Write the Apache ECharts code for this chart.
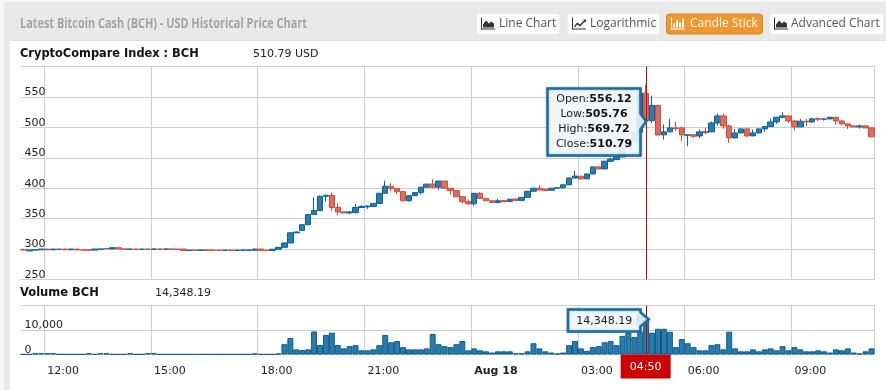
<!DOCTYPE html>
<html><head><meta charset="utf-8">
<style>html,body{margin:0;padding:0;background:#f7f7f7}#c{width:886px;height:390px}</style>
<script src="https://cdn.jsdelivr.net/npm/echarts@6/dist/echarts.min.js"></script>
</head><body><div id="c"></div>
<script>
const startHour = 11, startMinute = 20;
const tickIndex = [4,22,40,58,76,94,112,130];
const tickLabels = ['12:00','15:00','18:00','21:00','Aug 18','03:00','06:00','09:00'];
const priceTicks = {min:250,max:600,interval:50};
const volumeTicks = {min:0,max:20000,interval:10000};
const crosshairIndex = 105;
const crosshairLabel = '04:50';

const candleOpen = [
299.5,297,298.5,298.8,300,298.8,299.5,300,298.8,300,298.7,298.5,298.3,299.7,301,300.2,302.2,300.2,299.6,300,
299.6,300,299.7,300.1,299.8,300.1,299.9,300,297.6,298.4,298,298.4,298.3,298.2,297.9,298.2,297.9,298,298,298,
300,298,297.8,299.8,302.8,310,326.7,330.6,340,356.7,363.3,386.7,388.3,368.3,361.1,359.4,360,368.3,369.4,370,
375,391.7,403.3,399.4,394.4,379.4,387.8,392.8,401.7,406.7,401.7,411.7,400,396.1,386.1,377.8,374.4,391.7,383.3,379.4,
376.7,380,378.3,382.2,380,385,395,400,398.3,396.7,400,400.6,405.6,416.7,419.7,415.3,423.5,435,431.7,444.3,
447,451.4,466,477,492,556.12,510.8,536,487.7,492.6,499.1,499.1,487.1,487.7,486,493.1,492.6,507.3,518.8,502.4,
482.7,490.9,497.5,486,490.9,497.5,501.3,509,516.6,518.8,510.6,500.8,510,509,514.4,513.4,513.9,516.6,510.6,505.7,
502.4,500.8,502.4,499.1];
const candleClose = [
298.5,298.5,299,300,298.8,300,299.9,298.8,300,298.5,298.3,298.1,300,300.1,300.5,302.2,300.2,299.8,300,299.6,
299.9,299.7,300.1,299.8,300.1,299.7,299.6,297.5,298.2,298,298.4,298,297.9,297.8,298.2,297.9,298.2,298.4,298.4,300,
297.8,297.6,299.8,302.8,310,326.7,328,340,356.7,363.3,386.7,388.3,368.3,361.1,359.4,361.1,368.3,370,370.6,375,
391.7,403.3,399.4,394.4,379.4,387.8,392.8,401.7,406.7,401.7,411.7,400,396.1,386.1,377.8,374.4,391.7,383.3,379.4,376.7,
379.4,377.8,381.7,380,385,395,400,397.2,396.1,400,400.6,405.6,416.7,420,415.3,423.5,435,431.7,444.3,448,
451.4,466,477,492,556.12,510.79,536,487.4,492.6,499.1,498,487.7,487.7,485.5,492.6,491.5,507.3,518.8,502.4,482.7,
490.9,497.5,486,490.9,497.5,501.3,509,516.6,518.8,510.6,500.8,510,509,513.9,513.3,513.9,516.6,510.6,505.7,502.4,
500.8,502.4,499.1,484.4];
const candleLow = [
298,296.5,298,298.4,298.4,298.4,299.2,298.4,298.4,298.1,298,297.5,298,299.4,300.2,299.9,299.9,299.5,299.3,299.3,
299.3,299.4,299.4,299.5,299.5,299.4,299.3,297.2,297.3,297.7,297.7,297.7,297.6,297.5,297.6,297.6,297.6,297.7,297.7,297.7,
297.5,297.3,297.5,299.5,302.4,309.5,326.3,330,339.5,356,363,378,362.8,356.1,359,357.2,358.3,367.8,366.1,369.5,
374.5,391,395,390,378,378,387,390,401,399.5,397.2,399.4,389.4,385.5,375,372.8,371.1,383,379,376,
375,377.2,377,379.4,379.5,384.5,394.5,396.7,395.6,396.1,399.6,400,405,416,414.5,415,423,431,431,443.5,
446.5,451,465.5,476.5,491,505.76,507,487,480,492,493.7,477.3,469,482.7,482.2,488.7,492,503,497.5,474.5,
482.2,490,483.8,485.5,490.4,492.6,500.8,505.7,515.5,507.3,495.3,500.3,501.9,507.3,510,511.2,513.4,504,502.9,497.5,
500.3,498,498.6,484];
const candleHigh = [
300,299,299.3,300.3,300.4,300.3,300.2,300.4,300.3,300.3,299,298.8,300.3,300.4,301.4,302.6,302.6,300.6,300.3,300.3,
300.2,300.3,300.4,300.4,300.4,300.4,300.2,300.3,298.5,298.7,298.7,298.7,298.6,298.5,298.5,298.5,298.5,298.7,298.7,300.3,
300.3,298.3,300.1,303.1,310.5,327.1,329,340.5,357,385,388,389.4,392.8,375,361.5,362,373.9,372.2,372.2,375.5,
392,412.2,408.3,400,395,388.5,394,402,407.2,415,412.2,412,400.6,396.7,386.7,381.7,392.2,393.3,383.8,380,
382.2,380.6,382.8,382.8,385.5,395.5,400.6,405,398.8,400.5,401.2,406,417.2,428.3,420.3,424,435.5,436.5,445,450,
452,466.5,477.5,492.5,556.6,569.72,552,537,504.6,514,509.5,501,488.5,488,496.4,499.1,509.5,522.6,522.6,504.6,
497.5,498,499.7,496.4,498,502,514.4,517.2,524.8,519.3,511.7,513.9,513.9,516,516.6,515.5,517.2,517,511,506.2,
502.9,504.6,504,499.6];
const volume = [
100,100,500,500,500,500,100,100,100,100,100,500,100,500,500,100,100,100,500,100,
100,500,500,100,100,100,100,100,100,100,100,100,100,100,100,100,100,100,100,400,
100,100,100,400,4200,6750,2100,1800,2100,9400,3900,8000,8900,3900,2500,3400,3800,1700,1700,2100,
3800,8000,5000,5500,3000,2100,2100,2100,2500,8400,4200,3400,3000,4200,5500,1700,2500,1700,1300,800,
1300,1300,1300,500,500,1300,4600,2500,1300,800,400,800,3800,5500,2500,1500,3000,3400,5000,5500,
3800,7600,9150,7200,9300,14348.19,8900,10500,10500,9300,3000,6300,4600,3000,1700,1700,3800,4200,2100,9300,
2500,1300,1300,2100,1300,2100,2500,1700,3400,1700,3000,2100,1300,1300,1700,1300,800,2100,1700,2500,
800,400,1300,2500];

const titleText = 'Latest Bitcoin Cash (BCH) - USD Historical Price Chart';
const buttonLabels = ['Line Chart','Logarithmic','Candle Stick','Advanced Chart'];
const indexLabel = 'CryptoCompare Index : BCH', priceLabel = '510.79 USD';
const volumeLabel = 'Volume BCH', volumeValue = '14,348.19';
const tooltipRows = [['Open','556.12'],['Low','505.76'],['High','569.72'],['Close','510.79']];

const categories = candleOpen.map((_, i) => {
  const m = startHour*60 + startMinute + i*10;
  return String(Math.floor(m/60)%24).padStart(2,'0') + ':' + String(m%60).padStart(2,'0');
});
const candleData = candleOpen.map((o,i)=>[o,candleClose[i],candleLow[i],candleHigh[i]]);
const isTick = i => tickIndex.includes(i);
const FONT = '"DejaVu Sans", Verdana, sans-serif';
const BLUE='#2b7cab', BLUEB='#08649e', RED='#de6b5d', REDB='#d24b3c', GRID='#cccccc';

const chart = echarts.init(document.getElementById('c'), null, {renderer:'canvas', width:886, height:390});

function xAxis(gridIndex, showLabel){
  return {
    type:'category', gridIndex, data:categories, boundaryGap:true,
    axisLine:{show:false}, axisTick:{show:false},
    splitLine:{show:true, interval:isTick, lineStyle:{color:GRID,width:1}},
    axisLabel:{show:showLabel, interval:isTick, align:'left', margin:11, color:'#222', fontFamily:FONT, fontSize:11,
      formatter:(v,i)=>{const k=tickIndex.indexOf(i); const t=k<0?'':tickLabels[k]; return t.startsWith('Aug')?'{b|'+t+'}':t;},
      rich:{b:{fontWeight:'bold',fontFamily:FONT,fontSize:11,color:'#222'}}}
  };
}
function yAxis(gridIndex, ticks, fmt){
  return {
    type:'value', gridIndex, min:ticks.min, max:ticks.max, interval:ticks.interval,
    axisLine:{show:false}, axisTick:{show:false},
    splitLine:{show:true, lineStyle:{color:GRID,width:1}},
    axisLabel:{inside:true, margin:4, align:'left', verticalAlign:'bottom', lineHeight:9, color:'#222', fontFamily:FONT, fontSize:11,
      showMaxLabel:false, formatter:fmt}
  };
}
const txt=(x,y,text,font,fill,align)=>({type:'text',z:5,silent:true,style:{x,y,text,font,fill,align:align||'left',verticalAlign:'middle'}});
const rectEl=(x,y,w,h,fill,extra)=>({type:'rect',z:-10,silent:true,shape:Object.assign({x,y,width:w,height:h},extra&&extra.shape),style:Object.assign({fill},extra&&extra.style)});

const AXES=[[0,0,1,12],[0,11,14,1]];
const ICON = {
  area:{rects:AXES,polys:[[[2,10],[2,7],[5,3],[8,6],[10,4],[13,6],[13,10]]]},
  line:{rects:AXES,polys:[[[2,9],[5,5],[8,7],[12,3],[11,2],[14,2],[14,5],[13,4],[8,9],[5,7],[3,10]]]},
  bars:{rects:AXES.concat([[2,6,2,4],[5,3,2,7],[8,5,2,5],[11,1,2,9]]),polys:[]}
};
function button(x,w,label,iconName,active,textX){
  const y=13.5,h=21,c=active?'#ffffff':'#333333',ox=x+5,oy=y+4;
  const els=[{type:'rect',z:1,silent:true,shape:{x:x+.5,y:y+.5,width:w-1,height:h-1,r:3},
    style:{fill:active?'#f0982f':'#ffffff',stroke:active?'#cf8326':'#eeeeee',lineWidth:1}}];
  ICON[iconName].rects.forEach(r=>els.push({type:'rect',z:2,silent:true,shape:{x:ox+r[0],y:oy+r[1],width:r[2],height:r[3]},style:{fill:c}}));
  ICON[iconName].polys.forEach(p=>els.push({type:'polygon',z:2,silent:true,shape:{points:p.map(q=>[ox+q[0],oy+q[1]])},style:{fill:c}}));
  els.push(txt(textX,y+h/2,label,'12px "Open Sans"',active?'#ffffff':'#555555'));
  return els;
}
const titleFont='bold 15px "Open Sans"';
const ctx=document.createElement('canvas').getContext('2d'); ctx.font=titleFont;
const titleScale=287/ctx.measureText(titleText).width;
const baseGraphic = [
  rectEl(4,2,882,388,'#e9e9e9',{shape:{r:[4,0,0,0]}}),
  rectEl(10,40.5,876,349.5,'#ffffff'),
  {type:'line',z:-9,silent:true,shape:{x1:10,y1:40.5,x2:886,y2:40.5},style:{stroke:'#dedede',lineWidth:1}},
  {type:'text',z:5,silent:true,x:20,y:24,scaleX:titleScale,style:{x:0,y:0,text:titleText,font:titleFont,fill:'#a4a4a4',verticalAlign:'middle'}},
  ...button(476,84,buttonLabels[0],'area',false,499),
  ...button(567,93,buttonLabels[1],'line',false,590),
  ...button(666,97,buttonLabels[2],'bars',true,690),
  ...button(769,115,buttonLabels[3],'area',false,791),
  txt(20,54,indexLabel,'bold 11.4px '+FONT,'#111'),
  txt(253,54,priceLabel,'11px '+FONT,'#222'),
  txt(20,293,volumeLabel,'bold 11.5px '+FONT,'#111'),
  txt(155,293,volumeValue,'11px '+FONT,'#222')
];
const crossLine = {silent:true,symbol:'none',animation:false,label:{show:false},lineStyle:{color:'#cc0000',width:1,type:'solid'},data:[{xAxis:categories[crosshairIndex]}]};

chart.setOption({
  animation:false, backgroundColor:'#f7f7f7',
  grid:[{left:20.5,width:854,top:66.5,height:213},{left:20.5,width:854,top:305.5,height:49}],
  xAxis:[xAxis(0,false),xAxis(1,true)],
  yAxis:[yAxis(0,priceTicks),yAxis(1,volumeTicks,v=>v.toLocaleString('en-US'))],
  series:[
    {type:'candlestick',xAxisIndex:0,yAxisIndex:0,data:candleData,barWidth:6,
      itemStyle:{color:BLUE,color0:RED,borderColor:BLUEB,borderColor0:REDB,borderWidth:1},markLine:crossLine},
    {type:'bar',xAxisIndex:1,yAxisIndex:1,data:volume,barWidth:'100%',
      itemStyle:{color:BLUE,borderColor:'#0a5b8e',borderWidth:1},markLine:crossLine}
  ],
  graphic:{elements:baseGraphic}
});

function callout(tipX,tipY,left,right,top,bottom,halfH,text,rich,textY){
  const points=[[left,top],[right,top],[right,tipY-halfH],[tipX,tipY],[right,tipY+halfH],[right,bottom],[left,bottom]];
  return [
    {type:'polygon',z:50,silent:true,shape:{points},style:{fill:'rgba(255,255,255,0.86)',stroke:'#1f6d9e',lineWidth:2.5,shadowBlur:2,shadowColor:'rgba(31,109,158,.5)'}},
    {type:'polygon',z:51,silent:true,shape:{points:[[right-4,tipY-halfH+1],[tipX-2.5,tipY],[right-4,tipY+halfH-1]]},style:{fill:'#d6e5f0'}},
    {type:'text',z:52,silent:true,style:{x:(left+right)/2,y:textY,text,rich,align:'center',verticalAlign:'middle',font:'11px '+FONT,fill:'#222',lineHeight:15}}
  ];
}
const cx = chart.convertToPixel({xAxisIndex:0,yAxisIndex:0},[crosshairIndex,510.79])[0];
const vy = chart.convertToPixel({xAxisIndex:1,yAxisIndex:1},[crosshairIndex,volume[crosshairIndex]])[1];
const baseY = chart.convertToPixel({xAxisIndex:1,yAxisIndex:1},[crosshairIndex,0])[1];
const tipText = tooltipRows.map(r=>'{l|'+r[0]+':}{v|'+r[1]+'}').join('\n');
const rich = {l:{font:'11px '+FONT,fill:'#222',lineHeight:15},v:{font:'bold 11px '+FONT,fill:'#111',lineHeight:15}};
chart.setOption({graphic:{elements:baseGraphic.concat(
  callout(cx,121.5,547.5,640.5,88.5,155.5,8,tipText,rich,122),
  callout(cx+2.5,vy,568,640.5,309.5,331.5,7,volumeValue,{},321),
  [{type:'rect',z:60,silent:true,shape:{x:cx-25.5,y:baseY,width:50,height:24},style:{fill:'#cc0000'}},
   Object.assign(txt(cx-0.5,baseY+12.5,crosshairLabel,'11px '+FONT,'#ffffff','center'),{z:61})]
)}});
</script></body></html>
